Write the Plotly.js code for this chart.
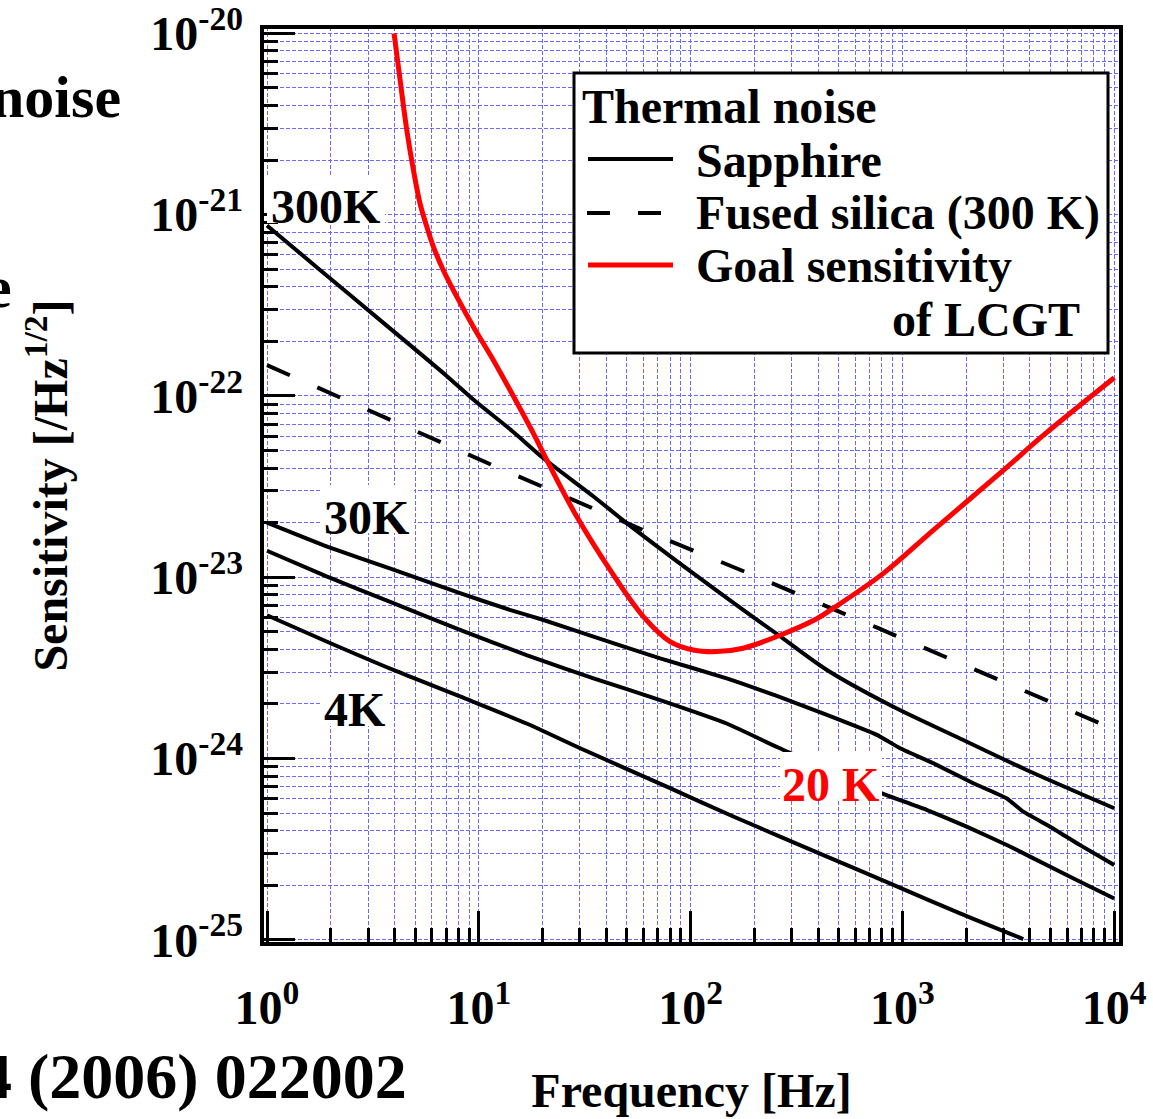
<!DOCTYPE html>
<html><head><meta charset="utf-8">
<script src="https://cdn.plot.ly/plotly-3.0.1.min.js"></script>
<style>html,body{margin:0;padding:0;background:#fff}#chart{width:1153px;height:1119px}</style>
</head><body><div id="chart"></div><script>
// ---------------- data ----------------
const freq300K = [1, 1.78, 3.42, 7.05, 9.42, 14.6, 20.2, 34.8, 49.9, 103, 177, 259, 440, 906, 1870, 3860, 10000];
const sens300K = [8.71e-22, 4.95e-22, 2.62e-22, 1.29e-22, 9.55e-23, 6.31e-23, 4.53e-23, 2.79e-23, 1.99e-23, 1.05e-23, 6.61e-24, 4.81e-24, 3.08e-24, 1.93e-24, 1.29e-24, 8.65e-25, 5.32e-25];

const freq30K = [1, 1.91, 3.95, 8.15, 14.0, 20.2, 34.8, 71.8, 148, 259, 440, 757, 975, 1450, 2160, 3100, 3720, 4980, 6900, 10000];
const sens30K = [2.00e-23, 1.48e-23, 1.10e-23, 8.17e-24, 6.61e-24, 5.81e-24, 4.70e-24, 3.57e-24, 2.77e-24, 2.20e-24, 1.74e-24, 1.35e-24, 1.14e-24, 9.23e-25, 7.31e-25, 6.04e-25, 5.09e-25, 4.21e-25, 3.33e-25, 2.59e-25];

const freq20K = [1, 1.91, 3.95, 8.15, 16.8, 34.8, 71.8, 148, 259, 783, 1300, 2010, 3220, 5150, 6900, 10000];
const sens20K = [1.40e-23, 1.01e-23, 7.19e-24, 5.12e-24, 3.72e-24, 2.77e-24, 2.10e-24, 1.56e-24, 1.15e-24, 6.49e-25, 5.21e-25, 4.21e-25, 3.27e-25, 2.48e-25, 2.09e-25, 1.69e-25];

const freq4K = [1, 1.91, 3.95, 8.15, 16.8, 30.1, 77.1, 159, 440, 906, 1870, 3720];
const sens4K = [6.17e-24, 4.42e-24, 3.08e-24, 2.20e-24, 1.56e-24, 1.14e-24, 7.00e-25, 4.79e-25, 2.88e-25, 2.01e-25, 1.40e-25, 1.01e-25];

const freqSilica = [1, 11.5, 59.8, 181, 769, 8730];
const sensSilica = [1.48e-22, 4.17e-23, 1.82e-23, 1.07e-23, 5.24e-24, 1.55e-24];

const freqGoal = [3.98, 4.25, 4.57, 4.91, 5.27, 5.68, 6.10, 6.79, 7.87, 9.42, 11.7, 14.6, 18.1, 21.3, 29.0, 41.6, 59.8, 80.0, 103, 133, 177, 259, 394, 472, 813, 1400, 2890, 4710, 10000];
const sensGoal = [1.0e-20, 5.53e-21, 2.93e-21, 1.77e-21, 1.16e-21, 8.59e-22, 6.67e-22, 4.95e-22, 3.53e-22, 2.41e-22, 1.58e-22, 9.91e-23, 6.22e-23, 4.26e-23, 2.16e-23, 1.10e-23, 6.07e-24, 4.42e-24, 3.97e-24, 3.89e-24, 4.06e-24, 4.74e-24, 5.90e-24, 6.75e-24, 1.05e-23, 1.82e-23, 3.75e-23, 6.17e-23, 1.26e-22];

const xTickVals = [1, 10, 100, 1000, 10000];
const xTickText = ['10<sup>0</sup>', '10<sup>1</sup>', '10<sup>2</sup>', '10<sup>3</sup>', '10<sup>4</sup>'];
const yTickVals = [1e-25, 1e-24, 1e-23, 1e-22, 1e-21, 1e-20];
const yTickText = ['10<sup>-25</sup>', '10<sup>-24</sup>', '10<sup>-23</sup>', '10<sup>-22</sup>', '10<sup>-21</sup>', '10<sup>-20</sup>'];

const curveLabels = ['300K', '30K', '4K', '20 K'];
const legendTitle = 'Thermal noise';
const legendNames = ['Sapphire', 'Fused silica (300 K)', 'Goal sensitivity', 'of LCGT'];
const xTitle = 'Frequency [Hz]';
const yTitle = 'Sensitivity [/Hz<sup>1/2</sup>]';
const croppedTexts = ['noise', 'e', '4 (2006) 022002'];

// ---------------- layout helpers ----------------
const W = 1153, H = 1119;
const L = 262, R = 1121, T = 27, B = 944;
const px = x => (x - L) / (R - L);
const py = y => (B - y) / (B - T);
const FONT = 'Liberation Serif, Times New Roman, serif';
const bold = (size, color) => ({family: FONT, size: size, color: color || 'black', weight: 'bold'});
const RED = 'rgb(255,0,0)';
const GRID = {gridcolor: 'rgb(105,105,255)', gridwidth: 1, griddash: '4px,2px'};

function minorVals(decades) {
  const out = [];
  for (let i = 0; i < decades.length - 1; i++) for (let k = 2; k <= 9; k++) out.push(k * decades[i]);
  return out;
}

function rectPx(x0, y0, x1, y1, extra) {
  return Object.assign({type: 'rect', xref: 'paper', yref: 'paper', layer: 'above',
    x0: px(x0), x1: px(x1), y0: py(y1), y1: py(y0)}, extra);
}
function linePx(x0, y0, x1, y1, line) {
  return {type: 'line', xref: 'paper', yref: 'paper', layer: 'above',
    x0: px(x0), x1: px(x1), y0: py(y0), y1: py(y1), line: line};
}
function textPx(text, x, y, anchor, size, color) {
  return {text: text, xref: 'paper', yref: 'paper', x: px(x), y: py(y),
    xanchor: anchor, yanchor: 'middle', showarrow: false, font: bold(size, color), borderpad: 0};
}

// ---------------- traces ----------------
const solidSmooth = {color: 'black', width: 4, shape: 'spline', smoothing: 0.8};
const solidSoft = {color: 'black', width: 4, shape: 'spline', smoothing: 0.4};
const traces = [
  {x: freq300K, y: sens300K, mode: 'lines', line: solidSmooth, name: 'Sapphire 300K'},
  {x: freq30K, y: sens30K, mode: 'lines', line: solidSoft, name: 'Sapphire 30K'},
  {x: freq20K, y: sens20K, mode: 'lines', line: solidSoft, name: 'Sapphire 20K'},
  {x: freq4K, y: sens4K, mode: 'lines', line: solidSmooth, name: 'Sapphire 4K'},
  {x: freqSilica, y: sensSilica, mode: 'lines', line: {color: 'black', width: 4, dash: '25px,30px'}, name: 'Fused silica (300 K)'},
  {x: freqGoal, y: sensGoal, mode: 'lines', line: {color: RED, width: 5, shape: 'spline', smoothing: 1}, name: 'Goal sensitivity of LCGT'}
];

// ---------------- shapes ----------------
const shapes = [
  // white boxes behind the curve labels
  rectPx(267, 175, 385, 223, {fillcolor: 'white', line: {width: 0}}),
  rectPx(320, 485, 414, 533, {fillcolor: 'white', line: {width: 0}}),
  rectPx(320, 677, 390, 726, {fillcolor: 'white', line: {width: 0}}),
  rectPx(780, 752, 882, 801, {fillcolor: 'white', line: {width: 0}}),
  // legend box and samples
  rectPx(574, 73, 1108, 353, {fillcolor: 'white', line: {color: 'black', width: 3}}),
  linePx(588, 159, 673, 159, {color: 'black', width: 4}),
  linePx(587, 213, 662, 213, {color: 'black', width: 4, dash: '23px,28px'}),
  linePx(588, 265, 673, 265, {color: RED, width: 5}),
  // frame
  {type: 'rect', xref: 'paper', yref: 'paper', layer: 'above', x0: 0, x1: 1, y0: 0, y1: 1, line: {color: 'black', width: 4}}
];

// ---------------- annotations ----------------
const annotations = [
  textPx(curveLabels[0], 270, 206, 'left', 48),
  textPx(curveLabels[1], 323, 517, 'left', 48),
  textPx(curveLabels[2], 323, 709, 'left', 48),
  textPx(curveLabels[3], 781, 784, 'left', 48, RED),
  textPx(legendTitle, 581, 107, 'left', 48),
  textPx(legendNames[0], 695, 160, 'left', 48),
  textPx(legendNames[1], 695, 213, 'left', 48),
  textPx(legendNames[2], 695, 265, 'left', 48),
  textPx(legendNames[3], 891, 319, 'left', 48),
  textPx(croppedTexts[0], 122, 97, 'right', 60),
  textPx(croppedTexts[1], 13, 287, 'right', 60),
  textPx(croppedTexts[2], 408, 1076, 'right', 64)
];

const tickCommon = {ticks: 'inside', ticklen: 33, tickwidth: 3, tickcolor: 'black',
  showline: false, zeroline: false, automargin: false, fixedrange: true, showgrid: true,
  ticklabeloverflow: 'allow'};

const layout = {
  width: W, height: H,
  margin: {l: L, r: W - R, t: T, b: H - B, pad: 0},
  paper_bgcolor: 'white', plot_bgcolor: 'white',
  showlegend: false,
  font: bold(48),
  xaxis: Object.assign({}, tickCommon, GRID, {
    type: 'log', range: [-0.0236, 4.032],
    tickmode: 'array', tickvals: xTickVals, ticktext: xTickText,
    tickfont: bold(48), ticklabelstandoff: 31,
    minor: Object.assign({tickmode: 'array', tickvals: minorVals(xTickVals), ticks: 'inside', ticklen: 16, tickwidth: 3, tickcolor: 'black', showgrid: true}, GRID),
    title: {text: xTitle, font: bold(48), standoff: 40}
  }),
  yaxis: Object.assign({}, tickCommon, GRID, {
    type: 'log', range: [-25.023, -19.965],
    tickmode: 'array', tickvals: yTickVals, ticktext: yTickText,
    tickfont: bold(48), ticklabelstandoff: 18,
    minor: Object.assign({tickmode: 'array', tickvals: minorVals(yTickVals), ticks: 'inside', ticklen: 16, tickwidth: 3, tickcolor: 'black', showgrid: true}, GRID),
    title: {text: yTitle, font: bold(48), standoff: 67}
  }),
  shapes: shapes,
  annotations: annotations
};

Plotly.newPlot('chart', traces, layout, {staticPlot: true, displayModeBar: false});
</script></body></html>
